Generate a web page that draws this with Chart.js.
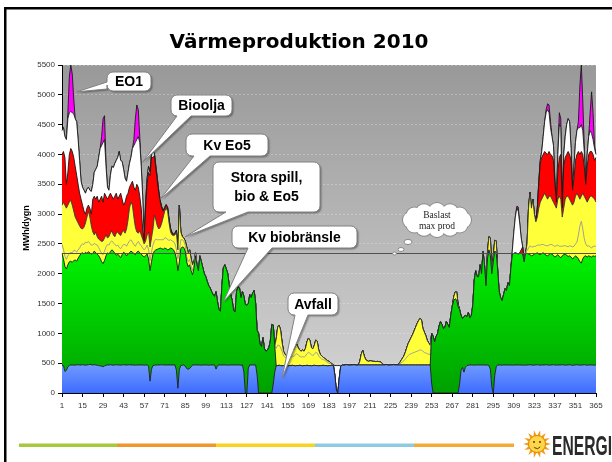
<!DOCTYPE html>
<html><head><meta charset="utf-8">
<script src="https://cdn.jsdelivr.net/npm/chart.js@4/dist/chart.umd.min.js"></script>
<style>html,body{margin:0;padding:0;background:#fff;}canvas{display:block;}</style>
</head><body>
<canvas id="c" width="612" height="462"></canvas>
<script>
// ---------- DATA (MWh/dygn per day, 2010) ----------
const days = Array.from({length: 365}, (_, i) => String(i + 1));
const tickDays = [1,15,29,43,57,71,85,99,113,127,141,155,169,183,197,211,225,239,253,267,281,295,309,323,337,351,365];
const baslastMaxProd = 2350;

const avfall = [
470,460,360,380,440,460,470,470,465,470,
470,475,470,470,475,470,465,470,475,480,
475,470,475,470,465,460,455,450,440,455,
465,470,470,475,470,465,470,475,470,470,
465,470,475,470,470,470,475,470,470,470,
465,470,470,470,470,470,465,470,470,450,
200,400,460,465,470,470,470,470,475,470,
470,470,470,470,470,470,470,470,380,80,
400,460,465,470,450,410,400,410,440,470,
470,470,470,470,470,465,470,470,470,470,
465,470,470,470,470,400,460,470,470,470,
470,470,470,465,470,470,470,470,470,470,
470,470,465,470,350,0,0,420,470,470,
470,470,470,300,0,0,0,0,0,0,
0,0,0,0,150,350,455,460,465,460,
455,460,465,460,455,460,460,465,460,455,
460,460,465,460,455,460,460,465,460,460,
455,460,465,460,460,455,460,460,465,460,
460,455,460,460,465,460,300,50,0,250,
450,470,465,470,475,470,465,470,470,475,
470,465,470,470,470,470,470,470,470,470,
470,470,470,470,470,470,470,470,470,470,
470,475,470,465,470,470,475,470,470,470,
470,470,470,470,470,470,470,470,470,470,
470,470,470,470,470,470,470,470,470,470,
470,470,150,0,0,0,0,0,0,0,
0,0,0,0,0,0,0,0,0,0,
0,150,380,430,350,430,460,465,470,470,
470,465,470,470,470,470,470,470,470,465,
470,460,400,100,0,300,440,470,470,470,
465,470,470,470,470,470,470,465,470,470,
470,470,470,470,465,470,465,470,470,475,
470,465,470,470,475,470,465,470,470,470,
475,470,465,470,470,475,470,465,470,470,
470,475,470,465,470,470,475,470,460,470,
470,475,470,465,470,470,475,470,465,470,
470,470,470,465,470];

const kvBiobransle = [
1870,1790,1760,1700,1710,1740,1740,1720,1755,1760,
1740,1785,1830,1870,1875,1860,1895,1870,1895,1870,
1855,1870,1905,1880,1865,1840,1805,1750,1730,1765,
1835,1880,1860,1895,1930,1915,1870,1835,1860,1830,
1805,1850,1885,1870,1830,1860,1875,1910,1890,1870,
1855,1890,1910,1880,1860,1830,1815,1830,1860,1800,
1850,1800,1870,1915,1930,1940,1950,1960,1945,1940,
1960,1950,1930,1940,1960,1950,1930,1880,1870,1970,
1800,1960,1985,1970,1930,1790,1720,1740,1610,1510,
1630,1830,1680,1580,1830,1735,1630,1530,1480,1400,
1335,1290,1230,1180,1150,1300,1070,930,900,1330,
1630,1680,1610,1535,1330,1180,1080,910,890,1230,
1310,1290,1135,1230,1270,1480,1470,1080,1180,1130,
1210,1250,1030,750,1000,820,780,930,740,700,
720,760,870,1150,990,450,0,0,0,0,
0,0,0,0,0,0,0,0,0,0,
0,0,0,0,0,0,0,0,0,0,
0,0,0,0,0,0,0,0,0,0,
0,0,0,0,0,0,0,0,0,0,
0,0,0,0,0,0,0,0,0,0,
0,0,0,0,0,0,0,0,0,0,
0,0,0,0,0,0,0,0,0,0,
0,0,0,0,0,0,0,0,0,0,
0,0,0,0,0,0,0,0,0,0,
0,0,0,0,0,0,0,0,0,0,
0,0,850,950,860,950,1000,1120,1200,1150,
1080,1100,1200,1150,1100,1300,1450,1550,1580,1560,
1450,1250,920,820,930,870,820,885,790,830,
1000,1430,1580,1480,1480,1680,1530,1910,1680,1335,
1780,1940,1900,1900,2200,2080,1910,1580,1230,1130,
1085,1180,1280,1250,1380,1330,1630,1865,1870,1880,
1870,1860,1880,1870,1865,1730,1885,1870,1860,1845,
1830,1845,1860,1870,1875,1860,1855,1870,1880,1860,
1835,1830,1855,1870,1860,1825,1810,1835,1850,1820,
1800,1825,1850,1865,1840,1820,1825,1810,1790,1800,
1830,1805,1780,1735,1710,1780,1815,1830,1815,1830,
1820,1810,1830,1825,1830];

// "Stora spill, bio & Eo5" – lower and upper part of the yellow band
const storaSpillLow = [
150,160,170,160,150,140,150,160,170,160,
150,140,130,140,150,160,170,180,170,160,
150,140,130,140,150,140,130,140,150,160,
150,140,150,160,150,140,150,160,150,140,
150,140,130,150,160,180,200,190,170,150,
140,150,160,150,140,130,120,130,150,160,
170,160,150,170,180,160,150,140,150,160,
170,180,170,150,140,130,140,150,160,200,
180,150,120,110,100,90,80,90,80,70,
60,40,0,0,0,0,0,0,0,0,
0,0,0,0,0,0,0,0,0,0,
0,0,0,0,0,0,0,0,0,0,
0,0,0,0,0,0,0,0,0,0,
0,0,0,0,0,0,0,0,0,0,
0,0,0,0,0,0,295,340,335,300,
245,160,135,120,115,120,140,155,150,185,
200,180,155,140,155,140,160,195,220,210,
185,170,185,220,210,165,130,110,95,90,
70,55,40,30,10,5,0,0,0,0,
0,0,0,0,0,0,0,0,0,0,
0,0,0,0,0,0,0,0,0,0,
0,0,0,0,0,0,0,0,0,0,
0,0,0,0,0,0,0,0,0,0,
10,30,50,70,100,130,160,180,190,200,
210,220,230,240,250,250,230,210,200,190,
180,170,0,0,0,0,0,0,0,0,
0,0,0,0,0,0,0,0,0,0,
0,0,0,0,0,0,0,0,0,0,
0,0,0,0,0,0,0,0,0,0,
0,0,0,0,0,0,0,0,0,0,
0,0,0,0,0,0,0,0,0,0,
0,0,0,0,0,0,0,50,100,150,
150,140,130,120,130,150,160,150,140,150,
160,170,160,150,160,170,180,170,160,170,
190,160,150,140,150,160,170,180,200,190,
200,250,400,600,700,500,300,200,180,170,
160,150,160,170,160];

const storaSpillHigh = [
660,790,860,860,850,860,870,800,660,560,
540,450,370,280,250,290,320,430,510,440,
320,220,140,210,140,140,170,200,230,220,
200,110,140,150,170,130,130,210,220,220,
220,240,230,190,290,390,550,630,620,460,
320,190,140,220,180,150,100,120,170,290,
230,240,270,430,320,230,180,210,280,380,
450,500,480,290,130,100,100,150,290,150,
770,130,50,50,70,160,150,160,120,100,
40,10,0,0,0,0,0,0,0,0,
0,0,0,0,0,0,0,0,0,0,
0,0,0,0,0,0,0,0,0,0,
0,0,0,0,0,0,0,0,0,0,
0,0,0,0,0,0,0,0,0,0,
0,0,0,0,0,0,150,300,340,290,
150,80,50,40,30,60,100,120,110,140,
160,120,100,100,110,100,130,200,240,210,
120,110,150,210,190,100,60,50,40,30,
30,30,30,20,15,5,0,0,0,0,
0,0,0,0,0,0,0,0,0,0,
0,0,0,60,180,246,150,90,70,60,
70,65,60,60,55,60,55,50,30,10,
0,0,0,0,0,0,0,0,0,0,
20,40,60,80,110,160,200,230,270,310,
360,410,460,500,530,510,380,340,290,220,
190,160,0,0,0,0,0,0,0,0,
0,0,0,0,0,0,0,60,110,140,
40,0,0,0,0,0,0,0,0,0,
0,0,0,0,0,0,0,0,0,0,
100,220,300,50,100,180,200,0,0,0,
0,0,0,0,0,0,0,0,0,0,
0,0,0,0,0,0,0,110,670,900,
650,800,540,410,470,620,720,760,810,870,
830,780,820,810,760,730,690,630,770,840,
790,490,630,780,840,850,780,740,700,740,
800,820,650,450,420,600,710,750,740,780,
850,870,820,790,740];

const kvEo5 = [
850,850,800,400,550,800,870,900,900,850,
750,650,550,490,400,270,150,150,100,150,
200,550,650,550,680,620,690,760,650,750,
650,650,680,670,580,600,680,670,550,640,
710,550,430,520,550,450,350,300,400,500,
620,800,770,580,450,170,50,550,850,1000,
1200,1350,1200,1000,850,750,600,420,250,100,
50,50,50,50,50,30,20,20,20,0,
0,0,0,0,0,0,0,0,0,0,
0,0,0,0,0,0,0,0,0,0,
0,0,0,0,0,0,0,0,0,0,
0,0,0,0,0,0,0,0,0,0,
0,0,0,0,0,0,0,0,0,0,
0,0,0,0,0,0,0,0,0,0,
0,0,0,0,0,0,0,0,0,0,
0,0,0,0,0,0,0,0,0,0,
0,0,0,0,0,0,0,0,0,0,
0,0,0,0,0,0,0,0,0,0,
0,0,0,0,0,0,0,0,0,0,
0,0,0,0,0,0,0,0,0,0,
0,0,0,0,0,0,0,0,0,0,
0,0,0,0,0,0,0,0,0,0,
0,0,0,0,0,0,0,0,0,0,
0,0,0,0,0,0,0,0,0,0,
0,0,0,0,0,0,0,0,0,0,
0,0,0,0,0,0,0,0,0,0,
0,0,0,0,0,0,0,0,0,0,
0,0,0,0,0,0,0,0,0,0,
0,0,0,0,0,0,0,0,0,0,
0,0,0,0,0,0,0,0,0,0,
0,0,0,0,0,0,0,0,0,0,
0,0,0,60,120,0,0,0,0,0,
0,0,0,0,150,400,650,700,700,700,
720,750,750,700,730,700,350,100,450,650,
750,150,700,700,700,750,750,700,250,400,
600,650,750,750,750,650,500,250,600,750,
750,750,720,650,750];

const bioolja = [
400,400,350,750,900,700,620,650,730,800,
900,750,550,300,300,350,350,320,300,300,
380,250,400,500,500,750,850,850,1000,900,
500,200,100,300,500,530,550,550,700,750,
550,630,600,400,250,350,400,450,550,700,
800,750,850,900,700,550,50,100,100,100,
50,50,100,40,50,50,30,20,20,10,
10,10,10,10,10,10,10,10,10,0,
0,0,0,0,0,0,0,0,0,0,
0,0,0,0,0,0,0,0,0,0,
0,0,0,0,0,0,0,0,0,0,
0,0,0,0,0,0,0,0,0,0,
0,0,0,0,0,0,0,0,0,0,
0,0,0,0,0,0,0,0,0,0,
0,0,0,0,0,0,0,0,0,0,
0,0,0,0,0,0,0,0,0,0,
0,0,0,0,0,0,0,0,0,0,
0,0,0,0,0,0,0,0,0,0,
0,0,0,0,0,0,160,410,460,210,
0,0,0,0,0,0,0,0,0,0,
0,0,0,0,0,0,0,0,0,0,
0,0,0,0,0,0,0,0,0,0,
0,0,0,0,0,0,0,0,0,0,
0,0,0,0,0,0,0,0,0,0,
0,0,0,0,0,0,0,0,0,0,
0,0,0,0,0,0,0,0,0,0,
0,0,0,0,0,0,0,0,0,0,
0,0,0,0,0,0,0,0,0,0,
0,0,0,0,0,0,0,0,0,0,
0,0,0,0,0,0,0,0,0,0,
0,0,0,0,0,0,0,70,360,600,
760,720,500,200,0,50,0,0,0,0,
0,0,0,0,0,50,50,100,300,500,
680,750,650,450,320,250,50,30,300,550,
450,20,200,350,500,550,550,200,30,200,
300,400,400,450,450,400,250,30,200,300,
350,300,250,200,50];

const eo1 = [
0,0,0,0,100,600,780,650,250,0,
0,0,0,0,0,0,0,0,0,0,
0,0,0,0,0,0,0,150,400,400,
50,0,0,0,0,0,0,0,0,0,
0,0,0,0,0,0,0,0,0,100,
400,580,450,100,0,0,0,0,0,0,
0,0,0,0,0,0,0,0,0,0,
0,0,0,0,0,0,0,0,0,0,
0,0,0,0,0,0,0,0,0,0,
0,0,0,0,0,0,0,0,0,0,
0,0,0,0,0,0,0,0,0,0,
0,0,0,0,0,0,0,0,0,0,
0,0,0,0,0,0,0,0,0,0,
0,0,0,0,0,0,0,0,0,0,
0,0,0,0,0,0,0,0,0,0,
0,0,0,0,0,0,0,0,0,0,
0,0,0,0,0,0,0,0,0,0,
0,0,0,0,0,0,0,0,0,0,
0,0,0,0,0,0,0,0,0,0,
0,0,0,0,0,0,0,0,0,0,
0,0,0,0,0,0,0,0,0,0,
0,0,0,0,0,0,0,0,0,0,
0,0,0,0,0,0,0,0,0,0,
0,0,0,0,0,0,0,0,0,0,
0,0,0,0,0,0,0,0,0,0,
0,0,0,0,0,0,0,0,0,0,
0,0,0,0,0,0,0,0,0,0,
0,0,0,0,0,0,0,0,0,0,
0,0,0,0,0,0,0,0,0,0,
0,0,0,0,0,0,0,0,0,0,
0,0,0,0,0,0,0,0,0,0,
30,70,0,0,0,0,0,0,0,0,
0,0,0,0,0,0,0,0,0,0,
50,100,130,100,0,0,0,0,0,200,
150,0,0,0,0,0,0,0,0,0,
0,0,100,700,1000,500,100,0,0,0,
300,700,450,50,0];

// ---------- LAYOUT / STYLE ----------
const callouts = [
  {lines: ['EO1'], box: [107, 72, 44, 19], side: 'left', a: 82, b: 89, tip: [11, 5050]},
  {lines: ['Bioolja'], box: [171, 95, 61, 21], side: 'bottom', a: 177, b: 191, tip: [56, 3870]},
  {lines: ['Kv Eo5'], box: [186, 134, 82, 22], side: 'bottom', a: 194, b: 210, tip: [68, 3250]},
  {lines: ['Stora spill,', 'bio & Eo5'], box: [213, 162, 107, 50], side: 'bottom', a: 226, b: 248, tip: [85, 2620]},
  {lines: ['Kv biobränsle'], box: [232, 226, 125, 22], side: 'bottom', a: 248, b: 272, tip: [111, 1530]},
  {lines: ['Avfall'], box: [288, 293, 50, 22], side: 'bottom', a: 295, b: 308, tip: [151, 250]}
];

function vGrad(chart, stops) {
  const a = chart.chartArea;
  if (!a) return stops[0][1];
  const g = chart.ctx.createLinearGradient(0, a.top, 0, a.bottom);
  stops.forEach(s => g.addColorStop(s[0], s[1]));
  return g;
}

function bubblePath(ctx, x, y, w, h, r, side, a, b, tx, ty) {
  ctx.beginPath();
  ctx.moveTo(x + r, y);
  ctx.lineTo(x + w - r, y);
  ctx.arcTo(x + w, y, x + w, y + r, r);
  ctx.lineTo(x + w, y + h - r);
  ctx.arcTo(x + w, y + h, x + w - r, y + h, r);
  if (side === 'bottom') { ctx.lineTo(b, y + h); ctx.lineTo(tx, ty); ctx.lineTo(a, y + h); }
  ctx.lineTo(x + r, y + h);
  ctx.arcTo(x, y + h, x, y + h - r, r);
  if (side === 'left') { ctx.lineTo(x, b); ctx.lineTo(tx, ty); ctx.lineTo(x, a); }
  ctx.lineTo(x, y + r);
  ctx.arcTo(x, y, x + r, y, r);
  ctx.closePath();
}

const extras = {
  id: 'extras',
  beforeDraw(chart) {
    const {ctx, chartArea: a} = chart;
    ctx.save();
    ctx.fillStyle = '#fff';
    ctx.fillRect(0, 0, chart.width, chart.height);
    const g = ctx.createLinearGradient(0, a.top, 0, a.bottom);
    g.addColorStop(0, '#999999');
    g.addColorStop(1, '#d4d4d4');
    ctx.fillStyle = g;
    ctx.fillRect(a.left, a.top, a.right - a.left, a.bottom - a.top);
    ctx.restore();
  },
  afterDatasetsDraw(chart) {
    const {ctx, chartArea: a, scales: {y}} = chart;
    const py = Math.round(y.getPixelForValue(baslastMaxProd)) + 0.5;
    ctx.save();
    ctx.strokeStyle = '#505050';
    ctx.lineWidth = 1.2;
    ctx.beginPath(); ctx.moveTo(a.left, py); ctx.lineTo(a.right, py); ctx.stroke();
    ctx.restore();
  },
  afterDraw(chart) {
    const {ctx, scales: {x, y}} = chart;
    ctx.save();
    // title
    ctx.fillStyle = '#000';
    ctx.textAlign = 'center';
    ctx.textBaseline = 'alphabetic';
    ctx.font = 'bold 20px "DejaVu Sans"';
    ctx.fillText('Värmeproduktion 2010', 299, 48);
    // y title
    ctx.save();
    ctx.translate(27, 228);
    ctx.rotate(-Math.PI / 2);
    ctx.font = 'bold 9px "Liberation Sans"';
    ctx.textBaseline = 'middle';
    ctx.fillText('MWh/dygn', 0, 0);
    ctx.restore();

    // callouts
    callouts.forEach(c => {
      const [bx, by, bw, bh] = c.box;
      const tx = x.getPixelForValue(c.tip[0] - 1);
      const ty = y.getPixelForValue(c.tip[1]);
      ctx.save();
      ctx.shadowColor = 'rgba(0,0,0,0.35)';
      ctx.shadowOffsetX = 1.5; ctx.shadowOffsetY = 1.5; ctx.shadowBlur = 1.5;
      bubblePath(ctx, bx, by, bw, bh, 6, c.side, c.a, c.b, tx, ty);
      ctx.fillStyle = '#fff';
      ctx.fill();
      ctx.restore();
      bubblePath(ctx, bx, by, bw, bh, 6, c.side, c.a, c.b, tx, ty);
      ctx.strokeStyle = '#808080';
      ctx.lineWidth = 1;
      ctx.stroke();
      ctx.fillStyle = '#000';
      ctx.font = 'bold 14px "Liberation Sans"';
      ctx.textAlign = 'center';
      ctx.textBaseline = 'middle';
      const n = c.lines.length;
      c.lines.forEach((t, i) => ctx.fillText(t, bx + bw / 2, by + bh / 2 + 1 + (i - (n - 1) / 2) * 19));
    });

    // thought cloud
    const cx = 437, cy = 220;
    const bumps = [];
    for (let k = 0; k < 12; k++) {
      const t = k / 12 * 2 * Math.PI;
      bumps.push([cx + 26 * Math.cos(t), cy + 9 * Math.sin(t), 8]);
    }
    const small = [[408, 242, 4, 2.6], [401, 249.5, 3, 2], [394.5, 253.5, 1.8, 1.5]];
    ctx.strokeStyle = '#8a8a8a';
    ctx.lineWidth = 2;
    bumps.forEach(([bx, by, r]) => { ctx.beginPath(); ctx.arc(bx, by, r, 0, 2 * Math.PI); ctx.stroke(); });
    ctx.fillStyle = '#fff';
    bumps.forEach(([bx, by, r]) => { ctx.beginPath(); ctx.arc(bx, by, r, 0, 2 * Math.PI); ctx.fill(); });
    ctx.beginPath(); ctx.ellipse(cx, cy, 28, 10, 0, 0, 2 * Math.PI); ctx.fill();
    ctx.lineWidth = 1;
    small.forEach(([sx, sy, rx, ry]) => {
      ctx.beginPath(); ctx.ellipse(sx, sy, rx, ry, 0, 0, 2 * Math.PI);
      ctx.fill(); ctx.stroke();
    });
    ctx.fillStyle = '#222';
    ctx.font = '9.5px "Liberation Serif"';
    ctx.textAlign = 'center';
    ctx.textBaseline = 'middle';
    ctx.fillText('Baslast', cx, 215);
    ctx.fillText('max prod', cx, 226.5);

    // bottom stripe
    const stripe = [[19, '#a8c83e'], [117, '#f0962e'], [216, '#f8d31f'], [315, '#8ecbe3'], [414, '#f5aa38'], [514, null]];
    for (let i = 0; i < stripe.length - 1; i++) {
      ctx.fillStyle = stripe[i][1];
      ctx.fillRect(stripe[i][0], 443.5, stripe[i + 1][0] - stripe[i][0], 3.5);
    }
    // sun logo
    const sx = 537, sy = 444;
    ctx.fillStyle = '#f39a1e';
    for (let k = 0; k < 14; k++) {
      const t = k / 14 * 2 * Math.PI;
      ctx.beginPath();
      ctx.moveTo(sx + 8 * Math.cos(t - 0.22), sy + 8 * Math.sin(t - 0.22));
      ctx.lineTo(sx + 14 * Math.cos(t), sy + 14 * Math.sin(t));
      ctx.lineTo(sx + 8 * Math.cos(t + 0.22), sy + 8 * Math.sin(t + 0.22));
      ctx.fill();
    }
    ctx.beginPath(); ctx.arc(sx, sy, 8.5, 0, 2 * Math.PI);
    ctx.fillStyle = '#ffd64a'; ctx.fill();
    ctx.strokeStyle = '#e08600'; ctx.lineWidth = 1; ctx.stroke();
    ctx.fillStyle = '#5a3a00';
    ctx.beginPath(); ctx.arc(sx - 3, sy - 2, 1, 0, 2 * Math.PI); ctx.fill();
    ctx.beginPath(); ctx.arc(sx + 3, sy - 2, 1, 0, 2 * Math.PI); ctx.fill();
    ctx.beginPath(); ctx.arc(sx, sy + 0.5, 4, 0.2 * Math.PI, 0.8 * Math.PI);
    ctx.strokeStyle = '#5a3a00'; ctx.stroke();
    // ENERGI
    ctx.save();
    ctx.font = 'bold 28px "Liberation Sans Narrow", "Liberation Sans"';
    ctx.textAlign = 'left';
    ctx.textBaseline = 'alphabetic';
    const w = ctx.measureText('ENERGI').width;
    ctx.translate(552, 455);
    ctx.scale(60 / w, 1);
    ctx.fillStyle = '#2a2a2a';
    ctx.fillText('ENERGI', 0, 0);
    ctx.restore();

    // frame
    ctx.fillStyle = '#000';
    ctx.fillRect(4, 7, 608, 2.5);
    ctx.fillRect(4, 7, 2.5, 455);
    ctx.restore();
  }
};

const edge = '#1a1a1a';
const common = {fill: '-1', pointRadius: 0, borderWidth: 0.9, tension: 0, borderColor: edge};

new Chart(document.getElementById('c'), {
  type: 'line',
  data: {
    labels: days,
    datasets: [
      {...common, label: 'Avfall', data: avfall, fill: 'origin',
        backgroundColor: c => vGrad(c.chart, [[0, '#86acff'], [0.88, '#86acff'], [1, '#3c6cff']])},
      {...common, label: 'Kv biobränsle', data: kvBiobransle,
        backgroundColor: c => vGrad(c.chart, [[0, '#00ff00'], [0.5, '#00ff00'], [1, '#00a000']])},
      {...common, label: 'Stora spill', data: storaSpillLow, backgroundColor: '#ffff3a', borderColor: '#9c9c9c'},
      {...common, label: 'bio & Eo5', data: storaSpillHigh, backgroundColor: '#ffff3a', borderColor: '#333'},
      {...common, label: 'Kv Eo5', data: kvEo5, backgroundColor: '#ff0000'},
      {...common, label: 'Bioolja', data: bioolja, backgroundColor: '#ffffff'},
      {...common, label: 'EO1', data: eo1, backgroundColor: '#ff00ff'}
    ]
  },
  options: {
    responsive: false,
    animation: false,
    devicePixelRatio: 1,
    events: [],
    layout: {padding: {left: 0, right: 16, top: 65, bottom: 49}},
    plugins: {legend: {display: false}, tooltip: {enabled: false}, title: {display: false}},
    scales: {
      x: {
        offset: false,
        grid: {drawOnChartArea: false, tickLength: 4, tickColor: '#000'},
        border: {color: '#000', width: 1},
        ticks: {
          autoSkip: false, maxRotation: 0, minRotation: 0, padding: 4,
          color: '#333', font: {family: 'Liberation Sans', size: 8},
          callback(v) { const d = this.getLabelForValue(v); return tickDays.includes(+d) ? d : null; }
        },
        afterFit(s) { s.height = 20; }
      },
      y: {
        stacked: true, min: 0, max: 5500,
        grid: {color: 'rgba(255,255,255,0.28)', tickColor: '#000', tickLength: 4},
        border: {color: '#000', width: 1, dash: [2, 2]},
        ticks: {stepSize: 500, padding: 3, color: '#333', font: {family: 'Liberation Sans', size: 8},
          callback: v => String(v)},
        afterFit(s) { s.width = 62; }
      }
    }
  },
  plugins: [extras]
});
</script>
</body></html>
